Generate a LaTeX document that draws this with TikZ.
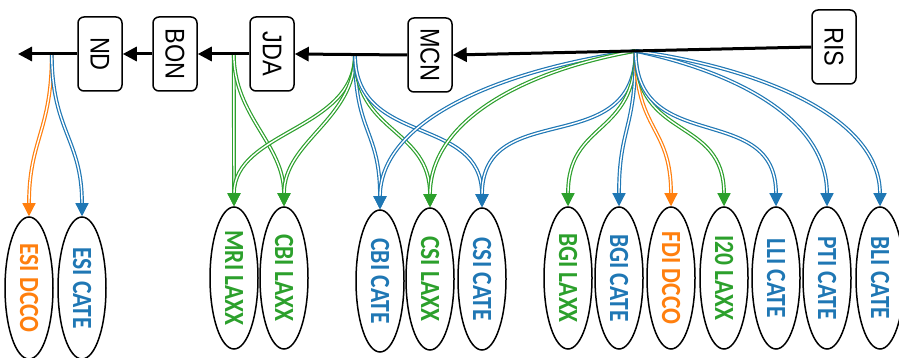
\documentclass[tikz,border=0pt]{standalone}
\usepackage{fontspec}
\setmainfont{Liberation Sans}
\newfontfamily\ellfont{Carlito}
\usetikzlibrary{arrows.meta,shapes.geometric,calc}
\definecolor{cO}{RGB}{255,127,14}
\definecolor{cB}{RGB}{31,119,180}
\definecolor{cG}{RGB}{44,160,44}
\newcommand\myelltext[2]{\rotatebox{-90}{\scalebox{1}[1.18]{\color{#1}#2}}}
\newcommand\myboxtext[1]{\rotatebox{-90}{\scalebox{1}[1.15]{#1}}}
\begin{document}
\begin{tikzpicture}[x=1pt,y=1pt,
  box/.style={draw, line width=1.5pt, rounded corners=6pt, minimum width=44pt, minimum height=74pt, inner sep=0pt, font=\fontsize{23.5}{23.5}\selectfont},
  ell/.style={draw, ellipse, line width=1.5pt, minimum width=48pt, minimum height=142pt, inner sep=0pt, font=\ellfont\bfseries\fontsize{23.5}{23.5}\selectfont},
  mainarr/.style={line width=3pt, -{Triangle[width=14pt,length=14pt]}},
  conn/.style={draw=#1, line width=1.2pt, double=white, double distance=1.4pt, -{Triangle[width=13pt,length=13pt,fill=#1]}},
]
\useasboundingbox (0,0) rectangle (899,-358);

% boxes
\node[box] (ND)  at (100,-54) {\myboxtext{ND}};
\node[box] (BON) at (175,-54) {\myboxtext{BON}};
\node[box] (JDA) at (272,-54) {\myboxtext{JDA}};
\node[box] (MCN) at (430,-55) {\myboxtext{MCN}};
\node[box] (RIS) at (834,-47) {\myboxtext{RIS}};
\coordinate (end) at (18,-54);

% ellipses
\node[ell] (ESIDCCO) at (29,-288) {\myelltext{cO}{ESI DCCO}};
\node[ell] (ESICATE) at (82,-288) {\myelltext{cB}{ESI CATE}};
\node[ell] (MRILAXX) at (234,-278) {\myelltext{cG}{MRI LAXX}};
\node[ell] (CBILAXX) at (284,-278) {\myelltext{cG}{CBI LAXX}};
\node[ell] (CBICATE) at (380,-281) {\myelltext{cB}{CBI CATE}};
\node[ell] (CSILAXX) at (430,-279) {\myelltext{cG}{CSI LAXX}};
\node[ell] (CSICATE) at (482,-279) {\myelltext{cB}{CSI CATE}};
\node[ell] (BGILAXX) at (568,-278) {\myelltext{cG}{BGI LAXX}};
\node[ell] (BGICATE) at (619,-278) {\myelltext{cB}{BGI CATE}};
\node[ell] (FDIDCCO) at (671,-278) {\myelltext{cO}{FDI DCCO}};
\node[ell] (I20LAXX) at (724,-278) {\myelltext{cG}{I20 LAXX}};
\node[ell] (LLICATE) at (776,-278) {\myelltext{cB}{LLI CATE}};
\node[ell] (PTICATE) at (827,-278) {\myelltext{cB}{PTI CATE}};
\node[ell] (BLICATE) at (880,-278) {\myelltext{cB}{BLI CATE}};

% branch points
\coordinate (b1) at ($(ND.west)!0.43!(end)$);
\coordinate (b2) at ($(JDA.west)!0.3!(BON.east)$);
\coordinate (b3) at ($(MCN.west)!0.465!(JDA.east)$);
\coordinate (b4) at ($(RIS.west)!0.49!(MCN.east)$);

% connectors from b1
\draw[conn=cO] (b1) to[out=-90,in=90,looseness=1.2] (ESIDCCO.north);
\draw[conn=cB] (b1) to[out=-90,in=90,looseness=1.2] (ESICATE.north);
% from b2
\draw[conn=cG] (b2) -- (MRILAXX.north);
\draw[conn=cG] (b2) to[out=-90,in=90] (CBILAXX.north);
% from b3
\draw[conn=cG] (b3) to[out=-90,in=90] (MRILAXX.north);
\draw[conn=cG] (b3) to[out=-90,in=90] (CBILAXX.north);
\draw[conn=cB] (b3) to[out=-90,in=90,looseness=1.3] (CBICATE.north);
\draw[conn=cG] (b3) to[out=-90,in=90,looseness=1.2] (CSILAXX.north);
\draw[conn=cB] (b3) to[out=-90,in=90,looseness=1.2] (CSICATE.north);
% from b4
\draw[conn=cB] (b4) to[out=188,in=90,out distance=140pt,in distance=88pt] (CBICATE.north);
\draw[conn=cG] (b4) to[out=190,in=90,out distance=113pt,in distance=87pt] (CSILAXX.north);
\draw[conn=cB] (b4) to[out=-90,in=90,looseness=1.3] (CSICATE.north);
\draw[conn=cG] (b4) to[out=-90,in=90,looseness=1.3] (BGILAXX.north);
\draw[conn=cB] (b4) to[out=-90,in=90,looseness=1.3] (BGICATE.north);
\draw[conn=cO] (b4) to[out=-90,in=90,looseness=1.3] (FDIDCCO.north);
\draw[conn=cG] (b4) to[out=-90,in=90,looseness=1.3] (I20LAXX.north);
\draw[conn=cB] (b4) to[out=-90,in=90,looseness=1.3] (LLICATE.north);
\draw[conn=cB] (b4) to[out=-12,in=90,out distance=106pt,in distance=86pt] (PTICATE.north);
\draw[conn=cB] (b4) to[out=-8,in=90,out distance=135pt,in distance=86pt] (BLICATE.north);

% main line
\draw[mainarr] (RIS.west) -- (MCN.east);
\draw[mainarr] (MCN.west) -- (JDA.east);
\draw[mainarr] (JDA.west) -- (BON.east);
\draw[mainarr] (BON.west) -- (ND.east);
\draw[mainarr] (ND.west) -- (end);
\end{tikzpicture}
\end{document}
